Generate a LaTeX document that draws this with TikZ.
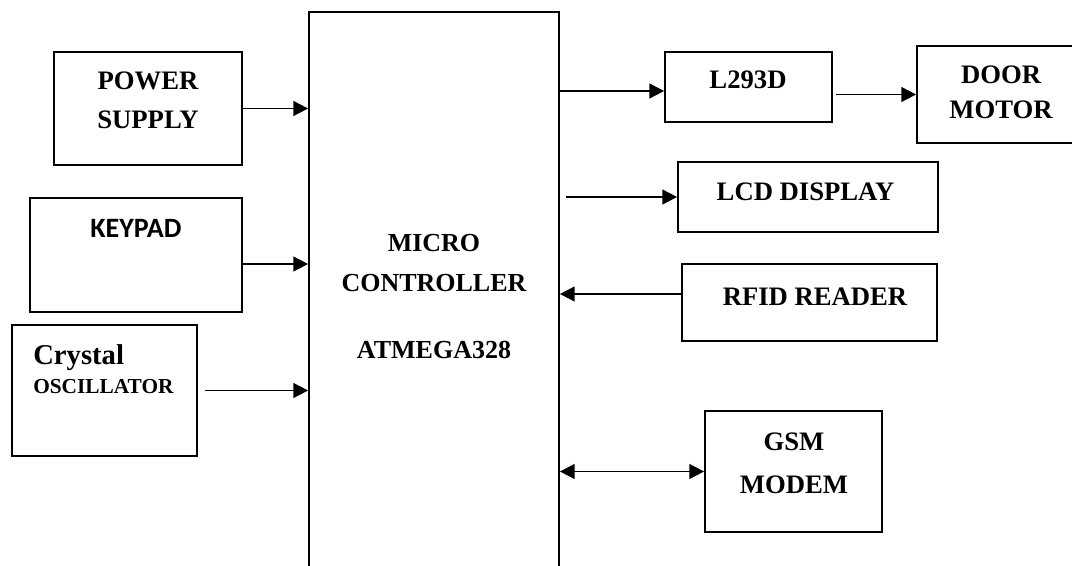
\documentclass[tikz,border=0pt]{standalone}
\usepackage{fontspec}
\setmainfont{Liberation Serif}
\newfontfamily\keyfont{Carlito}
\usetikzlibrary{arrows.meta, positioning, calc}
\tikzset{
  blk/.style={draw=black, line width=1.3pt, inner sep=0pt},
  lbl/.style={font=\bfseries\fontsize{20}{29.5}\selectfont, align=center, inner sep=0pt},
  flow/.style={-{Triangle[length=11pt, width=11pt]}, line width=1.3pt},
  bothflow/.style={{Triangle[length=11pt, width=11pt]}-{Triangle[length=11pt, width=11pt]}, line width=1.3pt},
}
\begin{document}
\begin{tikzpicture}[x=0.75pt, y=-0.75pt]
  \clip (0,0) rectangle (1072,566);

  % ----------------------------------------------------------------
  % Controller (open at the bottom edge)
  % ----------------------------------------------------------------
  \node[blk, lbl, minimum width=187.5pt, minimum height=426.75pt,
    font=\bfseries\fontsize{19.5}{30}\selectfont] (mcu) at (434,296.5)
    {MICRO\\CONTROLLER\\[20pt]ATMEGA328};

  % ----------------------------------------------------------------
  % Inputs on the left
  % ----------------------------------------------------------------
  \node[blk, minimum width=141pt, minimum height=84.75pt] (ps) at (148,108.5) {};
  \node[lbl] (pstxt) at (148,100.5) {POWER\\SUPPLY};

  \node[blk, minimum width=159pt, minimum height=85.5pt] (kp) at (136,255) {};
  \node[lbl, font=\keyfont\bfseries\fontsize{21}{25}\selectfont] (kptxt) at (136,228) {KEYPAD};

  \node[blk, minimum width=138.75pt, minimum height=98.25pt] (xo) at (104.5,390.5) {};
  \node[lbl, align=left, anchor=west, font=\bfseries\fontsize{21.5}{21.75}\selectfont] (xotxt) at (33,369)
    {Crystal\\{\fontsize{16}{21.75}\selectfont OSCILLATOR}};

  % ----------------------------------------------------------------
  % Outputs and peripherals on the right
  % ----------------------------------------------------------------
  \node[blk, minimum width=125.25pt, minimum height=52.5pt] (drv) at (748.5,87) {};
  \node[lbl] (drvtxt) at (748,80) {L293D};

  \node[blk, minimum width=126pt, minimum height=72.75pt] (door) at (1001,94.5) {};
  \node[lbl, font=\bfseries\fontsize{20}{26.25}\selectfont] (doortxt) at (1001,92.5) {DOOR\\MOTOR};

  \node[blk, minimum width=195pt, minimum height=52.5pt] (lcd) at (808,197) {};
  \node[lbl] (lcdtxt) at (805.5,192) {LCD DISPLAY};

  \node[blk, minimum width=191.25pt, minimum height=57.75pt] (rfid) at (809.5,302.5) {};
  \node[lbl] (rfidtxt) at (815,297) {RFID READER};

  \node[blk, minimum width=132.75pt, minimum height=90.75pt] (gsm) at (793.5,471.5) {};
  \node[lbl, font=\bfseries\fontsize{20}{32}\selectfont] (gsmtxt) at (794,463.5) {GSM\\MODEM};

  % ----------------------------------------------------------------
  % Connections
  % ----------------------------------------------------------------
  \draw[flow] (ps.east) -- (ps.east -| mcu.west);
  \draw[flow] ($(kp.east)+(0,9)$) -- ($(kp.east -| mcu.west)+(0,9)$);
  \draw[flow, shorten <=5.25pt] (xo.east) -- (xo.east -| mcu.west);

  \draw[flow] ($(drv.west -| mcu.east)+(0,4)$) -- ($(drv.west)+(0,4)$);
  \draw[flow, shorten <=2.25pt] (drv.east |- door.west) -- (door.west);
  \draw[flow, shorten <=4.5pt] (lcd.west -| mcu.east) -- (lcd.west);
  \draw[flow] ($(rfid.west)+(0,-8.5)$) -- ($(rfid.west -| mcu.east)+(0,-8.5)$);
  \draw[bothflow] (gsm.west -| mcu.east) -- (gsm.west);

\end{tikzpicture}
\end{document}
